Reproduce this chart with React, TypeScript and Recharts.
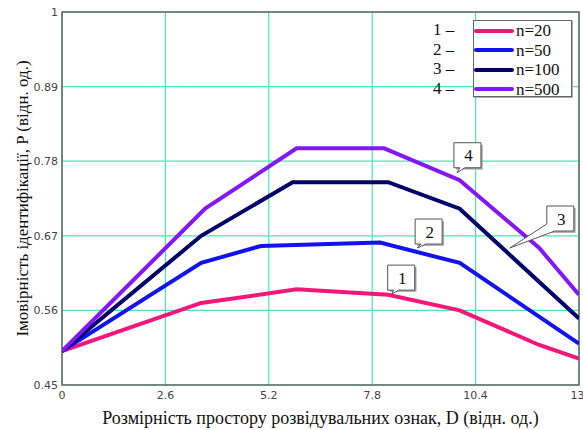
import React from "react";
import {
  LineChart,
  Line,
  XAxis,
  YAxis,
  CartesianGrid,
  Legend,
  ReferenceArea,
  ReferenceDot,
} from "recharts";

// D values and P values for each curve
const d20 = [0, 3.5, 5.9, 8.2, 10, 12, 13];
const p20 = [0.5, 0.571, 0.591, 0.583, 0.56, 0.509, 0.489];

const d50 = [0, 3.5, 5, 8, 10, 13];
const p50 = [0.5, 0.63, 0.655, 0.66, 0.63, 0.511];

const d100 = [0, 3.5, 5.8, 8.2, 10, 13];
const p100 = [0.5, 0.67, 0.749, 0.749, 0.71, 0.548];

const d500 = [0, 3.6, 5.9, 8.1, 10, 12, 13];
const p500 = [0.5, 0.71, 0.799, 0.799, 0.752, 0.652, 0.583];

const xTicks = [0, 2.6, 5.2, 7.8, 10.4, 13];
const yTicks = [0.45, 0.56, 0.67, 0.78, 0.89, 1];

const seriesNames = ["n=20", "n=50", "n=100", "n=500"];
const seriesColors = ["#f5167a", "#1212ee", "#00006a", "#8418f5"];

// numbered callouts: label and the point the tail touches
const callouts = [
  { label: "1", d: 8.29, p: 0.584, dx: -4, dy: -29, long: false },
  { label: "2", d: 8.93, p: 0.652, dx: -2, dy: -29, long: false },
  { label: "4", d: 9.93, p: 0.763, dx: -3, dy: -30, long: false },
  { label: "3", d: 11.26, p: 0.652, dx: 37, dy: -42, long: true },
];

const toRows = (ds: number[], ps: number[]) =>
  ds.map((d, i) => ({ d, p: ps[i] }));

const series = [
  toRows(d20, p20),
  toRows(d50, p50),
  toRows(d100, p100),
  toRows(d500, p500),
];

const serif = "Liberation Serif, Tinos, Times New Roman, DejaVu Serif, serif";
const GRID = "#4ee3b2";

const CalloutShape = (props: any) => {
  const { cx, cy, label, dx, dy, long } = props;
  const w = 27;
  const h = 25;
  const l = cx + dx;
  const t = cy + dy;
  const r = l + w;
  const b = t + h;
  let path: string;
  if (long) {
    path = `M${l},${t} L${r},${t} L${r},${b} L${l + 8},${b} L${cx},${cy} L${l},${b - 7} Z`;
  } else {
    path = `M${l},${t} L${r},${t} L${r},${b} L${l + 11},${b} L${cx},${cy} L${l + 6},${b} L${l},${b} Z`;
  }
  return (
    <g>
      <path d={`M${l + 2},${b + 1} L${r + 1},${b + 1} L${r + 1},${t + 2}`} stroke="#999" fill="none" strokeWidth={1.5} />
      <path d={path} fill="#fff" stroke="#555" strokeWidth={1} />
      <text
        x={l + w / 2 + 1}
        y={t + h / 2 + 6}
        textAnchor="middle"
        style={{ fontFamily: serif, fontSize: 17 }}
        fill="#111"
      >
        {label}
      </text>
    </g>
  );
};

const LegendBox = (props: any) => {
  const payload = [...(props.payload || [])].sort(
    (a: any, b: any) => seriesNames.indexOf(a.value) - seriesNames.indexOf(b.value)
  );
  return (
    <div style={{ display: "flex", fontFamily: serif, fontSize: 17, color: "#111" }}>
      <div style={{ width: 40, paddingTop: 0 }}>
        {payload.map((_: any, i: number) => (
          <div key={i} style={{ height: 19.5, lineHeight: "19.5px" }}>
            {i + 1} –
          </div>
        ))}
      </div>
      <div
        style={{
          border: "1px solid #666",
          boxShadow: "1px 1px 0 #aaa",
          background: "#fff",
          width: 97,
          height: 75,
          paddingTop: 0,
          boxSizing: "content-box",
        }}
      >
        {payload.map((entry: any, i: number) => (
          <div key={i} style={{ display: "flex", alignItems: "center", height: 19.5, lineHeight: "19.5px" }}>
            <span
              style={{
                display: "inline-block",
                width: 40,
                height: 4,
                borderRadius: 2,
                background: entry.color,
                marginRight: 2,
              }}
            />
            <span>{entry.value}</span>
          </div>
        ))}
      </div>
    </div>
  );
};

const App: React.FC = () => {
  return (
    <div style={{ position: "absolute", left: 0, top: 0, width: 583, height: 430, background: "#fff" }}>
      <LineChart width={583} height={430} margin={{ top: 12, right: 4, bottom: 25, left: 0 }}>
        <CartesianGrid stroke={GRID} strokeWidth={1.2} />
        <XAxis
          type="number"
          dataKey="d"
          domain={[0, 13]}
          ticks={xTicks}
          height={20}
          axisLine={false}
          tickLine={false}
          tickSize={0}
          tickMargin={6}
          tick={{ fontSize: 11, fill: "#444", fontFamily: "DejaVu Sans, sans-serif" }}
          label={{
            value: "Розмірність простору розвідувальних ознак, D (відн. од.)",
            position: "bottom",
            offset: 6,
            style: { fontFamily: serif, fontSize: 18, fill: "#111" },
          }}
          allowDataOverflow
        />
        <YAxis
          type="number"
          domain={[0.45, 1]}
          ticks={yTicks}
          width={62}
          axisLine={false}
          tickLine={false}
          tickSize={0}
          tickMargin={4}
          tick={{ fontSize: 11, fill: "#444", fontFamily: "DejaVu Sans, sans-serif" }}
          allowDataOverflow
          label={{
            value: "Імовірність ідентифікації, P (відн. од.)",
            angle: -90,
            position: "insideLeft",
            offset: 22,
            style: { textAnchor: "middle", fontFamily: serif, fontSize: 17, fill: "#111" },
          }}
        />
        <ReferenceArea x1={0} x2={13} y1={0.45} y2={1} fill="none" stroke="#666" strokeWidth={1.5} fillOpacity={0} />
        {series.map((rows, i) => (
          <Line
            key={seriesNames[i]}
            data={rows}
            dataKey="p"
            name={seriesNames[i]}
            type="linear"
            stroke={seriesColors[i]}
            strokeWidth={4}
            dot={false}
            activeDot={false}
            isAnimationActive={false}
          />
        ))}
        {callouts.map((c) => (
          <ReferenceDot
            key={c.label}
            x={c.d}
            y={c.p}
            r={1}
            shape={(p: any) => <CalloutShape {...p} label={c.label} dx={c.dx} dy={c.dy} long={c.long} />}
          />
        ))}
        <Legend
          layout="vertical"
          align="center"
          verticalAlign="middle"
          content={<LegendBox />}
          wrapperStyle={{ position: "absolute", left: 433, top: 20, width: 145, height: 78 }}
        />
      </LineChart>
    </div>
  );
};

export default App;
